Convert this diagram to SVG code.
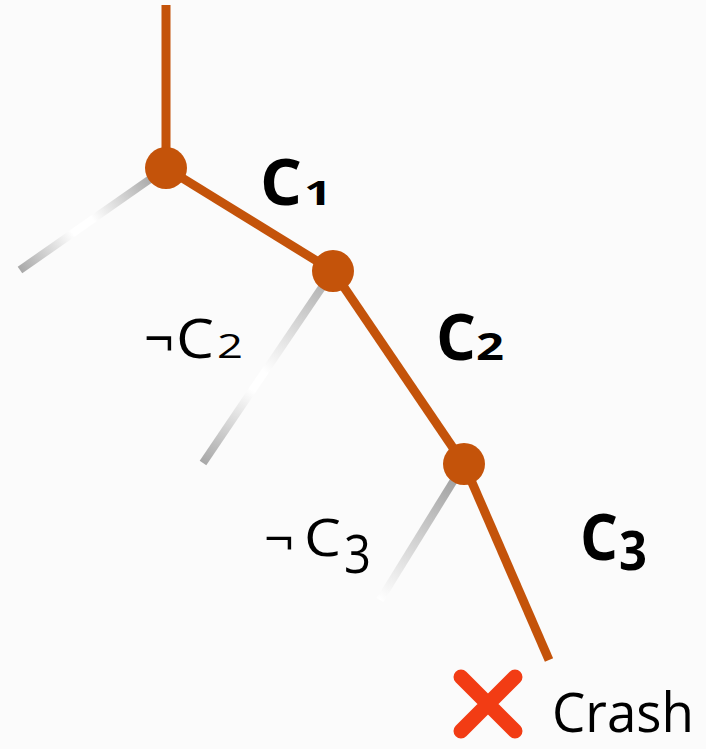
<svg xmlns="http://www.w3.org/2000/svg" width="706" height="749" viewBox="0 0 706 749">
<defs>
<style>
.main{stroke:#c4530a;stroke-width:9;fill:none;stroke-linecap:butt}
.node{fill:#c4530a}
.lb{font-family:"Open Sans","Noto Sans",sans-serif;font-weight:bold;fill:#000}
.ln{font-family:"Open Sans","Noto Sans",sans-serif;fill:#000}
</style>
<linearGradient id="g1" gradientUnits="userSpaceOnUse" x1="150" y1="175" x2="20" y2="270">
<stop offset="0" stop-color="#a8a8a8"/><stop offset="0.45" stop-color="#ffffff"/><stop offset="0.6" stop-color="#ffffff"/><stop offset="1" stop-color="#a8a8a8"/>
</linearGradient>
<linearGradient id="g2" gradientUnits="userSpaceOnUse" x1="325" y1="280" x2="203" y2="463">
<stop offset="0" stop-color="#b0b0b0"/><stop offset="0.5" stop-color="#ffffff"/><stop offset="0.6" stop-color="#ffffff"/><stop offset="1" stop-color="#a8a8a8"/>
</linearGradient>
<linearGradient id="g3" gradientUnits="userSpaceOnUse" x1="455" y1="475" x2="380" y2="600">
<stop offset="0" stop-color="#a0a0a0"/><stop offset="1" stop-color="#ffffff"/>
</linearGradient>
</defs>
<rect width="706" height="749" fill="#fbfbfb"/>
<g id="connectors">
<line x1="166" y1="168" x2="20" y2="270" stroke="url(#g1)" stroke-width="8"/>
<line x1="333" y1="271" x2="203" y2="463" stroke="url(#g2)" stroke-width="8"/>
<line x1="464" y1="464" x2="380" y2="600" stroke="url(#g3)" stroke-width="8"/>
<line class="main" x1="166" y1="5" x2="166" y2="168"/>
<line class="main" x1="166" y1="168" x2="333" y2="271"/>
<line class="main" x1="333" y1="271" x2="464" y2="464"/>
<line class="main" x1="464" y1="464" x2="549" y2="660"/>
</g>
<g id="n1"><circle class="node" cx="166" cy="168" r="21"/></g>
<g id="n2"><circle class="node" cx="333" cy="271" r="21"/></g>
<g id="n3"><circle class="node" cx="464" cy="464" r="21"/></g>
<g id="label-c1">
<text class="lb" x="260" y="205" font-size="64" textLength="42" lengthAdjust="spacingAndGlyphs">C</text>
<text class="lb" x="304" y="205" font-size="34" font-family="DejaVu Sans" textLength="28" lengthAdjust="spacingAndGlyphs">1</text>
</g>
<g id="label-c2">
<text class="lb" x="436" y="360" font-size="64" textLength="40" lengthAdjust="spacingAndGlyphs">C</text>
<text class="lb" x="476" y="360" font-size="38" textLength="28" lengthAdjust="spacingAndGlyphs">2</text>
</g>
<g id="label-c3">
<text class="lb" x="580" y="560" font-size="64" textLength="38" lengthAdjust="spacingAndGlyphs">C</text>
<text class="lb" x="619" y="570" font-size="54" textLength="28" lengthAdjust="spacingAndGlyphs">3</text>
</g>
<g id="label-nc2">
<text class="ln" x="144" y="358" font-size="54" textLength="30" lengthAdjust="spacingAndGlyphs">¬</text>
<text class="ln" x="176" y="358" font-size="54" textLength="38" lengthAdjust="spacingAndGlyphs">C</text>
<text class="ln" x="217" y="358" font-size="33" textLength="26" lengthAdjust="spacingAndGlyphs">2</text>
</g>
<g id="label-nc3">
<text class="ln" x="264" y="556" font-size="50" textLength="30" lengthAdjust="spacingAndGlyphs">¬</text>
<text class="ln" x="304" y="556" font-size="52" textLength="37" lengthAdjust="spacingAndGlyphs">C</text>
<text class="ln" x="344" y="573" font-size="53" textLength="27" lengthAdjust="spacingAndGlyphs">3</text>
</g>
<g id="crash">
<path d="M461 677 L515 731 M515 677 L461 731" stroke="#f23c14" stroke-width="15" stroke-linecap="round"/>
<text class="ln" x="552" y="732" font-size="54" textLength="142" lengthAdjust="spacingAndGlyphs">Crash</text>
</g>
</svg>
